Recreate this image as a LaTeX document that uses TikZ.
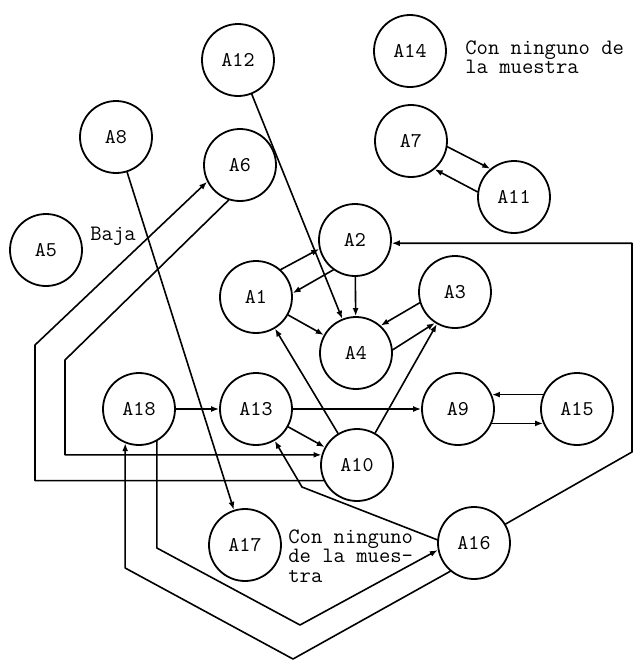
\documentclass[tikz,border=0pt]{standalone}
\usepackage{fontspec}
\usepackage{tikz}
\usetikzlibrary{arrows.meta}

\begin{document}
\begin{tikzpicture}[x=0.5pt,y=-0.5pt,>={Latex[length=4pt,width=3pt]},line cap=round,line join=round,
            estado/.style={circle,draw,line width=0.9pt,minimum size=36pt,inner sep=0pt,
                font=\ttfamily\fontsize{10.5}{12}\selectfont},
            nota/.style={align=left,inner sep=0pt,
                font={\ttfamily\fontsize{11}{9.8}\selectfont\lineskiplimit-10pt\relax}},
            enlace/.style={->,line width=0.8pt}]
            \useasboundingbox (0,0) rectangle (634,661);

            \node[estado] (A12) at (238,60) {A12};
            \node[estado] (A14) at (410,51) {A14};
            \node[estado] (A8) at (116,137) {A8};
            \node[estado] (A6) at (240,165) {A6};
            \node[estado] (A5) at (46,250) {A5};
            \node[estado] (A7) at (411,141) {A7};
            \node[estado] (A11) at (514,197) {A11};
            \node[estado] (A2) at (355,240) {A2};
            \node[estado] (A3) at (455,292) {A3};
            \node[estado] (A1) at (256,297) {A1};
            \node[estado] (A4) at (356,353) {A4};
            \node[estado] (A18) at (139,409) {A18};
            \node[estado] (A13) at (256,409) {A13};
            \node[estado] (A9) at (458,409) {A9};
            \node[estado] (A15) at (577,409) {A15};
            \node[estado] (A10) at (357,465) {A10};
            \node[estado] (A17) at (245,545) {A17};
            \node[estado] (A16) at (474,543) {A16};

            \node[nota,anchor=base west] (baja) at (90,240) {Baja};
            \node[nota,anchor=north west] (nota14) at (465,40) {Con ninguno de\\la muestra};
            \node[nota,anchor=north west] (nota17) at (288,529) {Con ninguno\\de la mues-\\tra};

            \coordinate (b1) at (302,487);
            \coordinate (b2) at (35,345);
            \coordinate (b3) at (65,360);
            \coordinate (b4) at (632,452);
            \coordinate (b5) at (293,659);
            \coordinate (b6) at (0,568);
            \coordinate (b7) at (0,548);
            \coordinate (b8) at (300,625);

            \draw[enlace] (A12) -- (A4);
            \draw[enlace] (A8) -- (A17);
            \draw[enlace] (A1.48) -- (A2.194);
            \draw[enlace] (A2.234) -- (A1.6);
            \draw[enlace] (A2) -- (A4);
            \draw[enlace] (A1) -- (A4);
            \draw[enlace] (A3.197) -- (A4.48);
            \draw[enlace] (A4.5) -- (A3.237);
            \draw[enlace] (A10) -- (A1);
            \draw[enlace] (A10) -- (A3);
            \draw[enlace] (A7.351) -- (A11.130);
            \draw[enlace] (A11.172) -- (A7.310);
            \draw[enlace] (A15.157) -- (A9.23);
            \draw[enlace] (A9.337) -- (A15.203);
            \draw[enlace] (A18) -- (A13);
            \draw[enlace] (A13) -- (A9);
            \draw[enlace] (A13) -- (A10);
            \draw[enlace] (A16.175) -- (b1) -- (A13);
            \draw[enlace] (A10.205) -| (b2) -- (A6.207);
            \draw[enlace] (A6.252) -- (b3) |- (A10.164);
            \draw[enlace] (A16.31) -- (b4) |- (A2.355);
            \draw[enlace] (A16.230) -- (b5) -- (A18.248 |- b6) -- (A18.248);
            \draw[enlace] (A18.299) -- (A18.299 |- b7) -- (b8) -- (A16.191);
        \end{tikzpicture}
\end{document}
